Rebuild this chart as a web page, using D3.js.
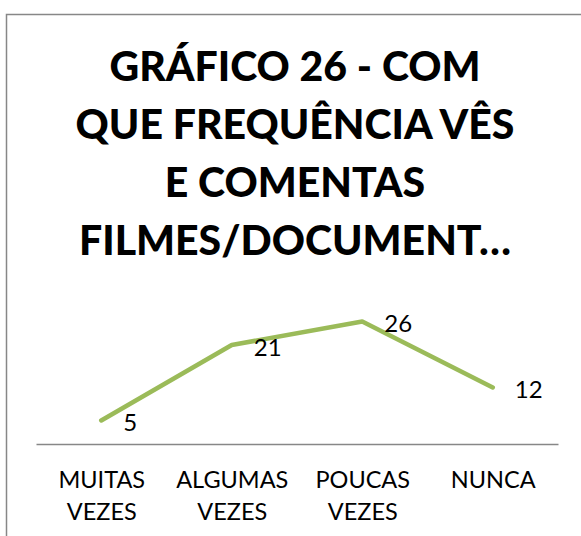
<!DOCTYPE html>
<html>
<head>
<meta charset="utf-8">
<script src="https://cdn.jsdelivr.net/npm/d3@7"></script>
<style>
  body { margin: 0; background: #fff; }
  svg { display: block; font-family: Lato, "Open Sans", sans-serif; }
</style>
</head>
<body>
<div id="chart"></div>
<script>
const titleLines = ['GRÁFICO 26 - COM', 'QUE FREQUÊNCIA VÊS', 'E COMENTAS', 'FILMES/DOCUMENT…'];
const categories = ['MUITAS VEZES', 'ALGUMAS VEZES', 'POUCAS VEZES', 'NUNCA'];
const values = [5, 21, 26, 12];

const width = 581;
const height = 536;
const margin = { top: 302.6, right: 23, bottom: 92, left: 36 };

const svg = d3.select('#chart')
  .append('svg')
  .attr('width', width)
  .attr('height', height);

// chart border (runs off the right and bottom edge)
svg.append('rect')
  .attr('x', 6.5)
  .attr('y', 14.5)
  .attr('width', 700)
  .attr('height', 700)
  .attr('fill', 'none')
  .attr('stroke', '#878787')
  .attr('stroke-width', 1.5);

svg.append('text')
  .attr('text-anchor', 'middle')
  .attr('font-weight', 900)
  .attr('font-size', 41)
  .attr('fill', '#000')
  .selectAll('tspan')
  .data(titleLines)
  .enter()
  .append('tspan')
  .attr('x', 295)
  .attr('y', (d, i) => 81 + i * 58)
  .text(d => d);

const x = d3.scalePoint()
  .domain(categories)
  .range([margin.left, width - margin.right])
  .padding(0.5);

const y = d3.scaleLinear()
  .domain([0, 30])
  .range([height - margin.bottom, margin.top]);

const xAxis = d3.axisBottom(x)
  .tickSize(0)
  .tickSizeOuter(0)
  .tickFormat('');

const gx = svg.append('g')
  .attr('transform', `translate(0, ${height - margin.bottom})`)
  .call(xAxis);

gx.select('.domain')
  .attr('stroke', '#878787')
  .attr('stroke-width', 1.6);

// two-line category labels
gx.selectAll('.tick')
  .append('text')
  .attr('fill', '#000')
  .attr('font-size', 23.5)
  .attr('font-family', 'Lato, sans-serif')
  .attr('text-anchor', 'middle')
  .selectAll('tspan')
  .data(d => d.split(' '))
  .enter()
  .append('tspan')
  .attr('x', 0)
  .attr('y', (d, i) => 44 + i * 32)
  .text(d => d);

const line = d3.line()
  .x((d, i) => x(categories[i]))
  .y(d => y(d));

svg.append('path')
  .datum(values)
  .attr('fill', 'none')
  .attr('stroke', '#9bbb59')
  .attr('stroke-width', 4.5)
  .attr('stroke-linejoin', 'round')
  .attr('stroke-linecap', 'round')
  .attr('d', line);

svg.selectAll('.label')
  .data(values)
  .enter()
  .append('text')
  .attr('class', 'label')
  .attr('x', (d, i) => x(categories[i]) + 22)
  .attr('y', d => y(d) + 11)
  .attr('font-size', 24)
  .attr('fill', '#000')
  .text(d => d);
</script>
</body>
</html>
